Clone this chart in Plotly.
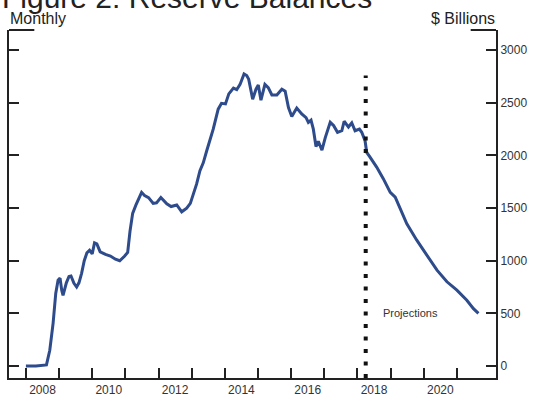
import plotly.graph_objects as go

# Decimal-year positions and reserve balances ($ billions)
years = [2008.00, 2008.30, 2008.62, 2008.72, 2008.82, 2008.90, 2008.97, 2009.03, 2009.08, 2009.12,
         2009.22, 2009.30, 2009.36, 2009.45, 2009.53, 2009.60, 2009.68, 2009.76, 2009.84, 2009.92,
         2010.00, 2010.07, 2010.14, 2010.24, 2010.40, 2010.55, 2010.70, 2010.83, 2010.98, 2011.07,
         2011.14, 2011.22, 2011.32, 2011.40, 2011.49, 2011.58, 2011.70, 2011.84, 2011.94, 2012.07,
         2012.25, 2012.38, 2012.55, 2012.70, 2012.85, 2012.96, 2013.05, 2013.15, 2013.25, 2013.35,
         2013.45, 2013.55, 2013.65, 2013.80, 2013.90, 2014.02, 2014.12, 2014.26, 2014.36, 2014.46,
         2014.58, 2014.66, 2014.72, 2014.84, 2014.94, 2015.01, 2015.09, 2015.21, 2015.31, 2015.42,
         2015.57, 2015.72, 2015.82, 2015.92, 2016.02, 2016.17, 2016.32, 2016.45, 2016.52, 2016.60,
         2016.67, 2016.75, 2016.82, 2016.93, 2017.03, 2017.18, 2017.28, 2017.40, 2017.53, 2017.60,
         2017.73, 2017.83, 2017.93, 2018.06, 2018.13, 2018.23, 2018.28, 2018.38, 2018.58, 2018.78,
         2018.99, 2019.14, 2019.29, 2019.49, 2019.79, 2020.09, 2020.40, 2020.70, 2021.00, 2021.30,
         2021.50, 2021.65]
reserves = [0, 0, 10, 150, 405, 690, 815, 835, 720, 670,
            790, 850, 855, 785, 750, 790, 880, 1000, 1075, 1100,
            1065, 1170, 1160, 1085, 1060, 1045, 1015, 1000, 1045, 1080,
            1280, 1450, 1530, 1585, 1650, 1620, 1600, 1545, 1550, 1600,
            1540, 1515, 1530, 1465, 1500, 1545, 1635, 1730, 1855, 1930,
            2040, 2140, 2250, 2440, 2495, 2490, 2585, 2640, 2625, 2675,
            2775, 2760, 2725, 2535, 2630, 2670, 2525, 2675, 2645, 2575,
            2575, 2630, 2610, 2455, 2370, 2450, 2395, 2360, 2315, 2335,
            2250, 2085, 2135, 2050, 2170, 2315, 2285, 2220, 2235, 2325,
            2270, 2310, 2235, 2250, 2220, 2140, 2030, 1985, 1890, 1780,
            1650, 1605, 1495, 1350, 1195, 1050, 910, 800, 720, 625,
            545, 500]

year_ticks = list(range(2008, 2022))
label_years = [2008, 2010, 2012, 2014, 2016, 2018, 2020]
y_ticks = [0, 500, 1000, 1500, 2000, 2500, 3000]
projection_start = 2018.25
projection_top = 2760

FONT = "Liberation Sans, Arial, sans-serif"
AX = "#222222"
TXT = "#333333"

fig = go.Figure()
fig.add_trace(go.Scatter(
    x=years, y=reserves, mode="lines",
    line=dict(color="#2E4B8B", width=3), hoverinfo="skip", showlegend=False,
))

fig.add_trace(go.Scatter(
    x=[projection_start, projection_start], y=[-114, projection_top], mode="lines",
    line=dict(color="#111111", width=4, dash="4px,8.5px"), hoverinfo="skip", showlegend=False,
))

# top corner brackets
fig.add_shape(type="line", xref="paper", yref="paper", x0=0, x1=0.052, y0=1, y1=1,
              line=dict(color=AX, width=2))
fig.add_shape(type="line", xref="paper", yref="paper", x0=0.948, x1=1, y0=1, y1=1,
              line=dict(color=AX, width=2))

fig.add_annotation(text="Figure 2: Reserve Balances", xref="paper", yref="paper",
                   x=-0.019, y=1.093, xanchor="left", yanchor="middle", showarrow=False,
                   font=dict(family=FONT, size=30, color="#222222"))
fig.add_annotation(text="Monthly", xref="paper", yref="paper",
                   x=-0.003, y=1.034, xanchor="left", yanchor="middle", showarrow=False,
                   font=dict(family=FONT, size=16, color="#222222"))
fig.add_annotation(text="$ Billions", xref="paper", yref="paper",
                   x=1.003, y=1.034, xanchor="right", yanchor="middle", showarrow=False,
                   font=dict(family=FONT, size=16, color="#222222"))
fig.add_annotation(text="Projections", x=2019.59, y=500, xref="x", yref="y",
                   showarrow=False, font=dict(family=FONT, size=11, color=TXT))

fig.update_layout(
    width=533, height=396,
    margin=dict(l=9, r=37, t=30, b=18, autoexpand=False),
    paper_bgcolor="white", plot_bgcolor="white",
    font=dict(family=FONT, color=TXT),
    showlegend=False,
    xaxis=dict(
        range=[2007.49, 2022.18], showgrid=False, zeroline=False, automargin=False,
        showline=True, linecolor=AX, linewidth=2, mirror=False,
        tickmode="array", tickvals=[y + 0.5 for y in label_years],
        ticktext=[str(y) for y in label_years],
        ticks="outside", ticklen=0, tickcolor="rgba(0,0,0,0)",
        tickfont=dict(family=FONT, size=12, color=TXT),
        minor=dict(tickmode="array", tickvals=year_ticks, ticks="inside",
                   ticklen=10, tickwidth=2, tickcolor=AX, showgrid=False),
    ),
    yaxis=dict(
        range=[-114, 3192], side="right", showgrid=False, zeroline=False, automargin=False,
        showline=True, linecolor=AX, linewidth=2, mirror="ticks",
        tickmode="array", tickvals=y_ticks, ticktext=[str(v) for v in y_ticks],
        ticks="inside", ticklen=10, tickwidth=2, tickcolor=AX,
        tickfont=dict(family=FONT, size=12, color=TXT),
    ),
)

fig.write_html(
    "out.html",
    config={"displayModeBar": False},
    post_script="document.body.style.margin='0';document.body.style.overflow='hidden';",
)
